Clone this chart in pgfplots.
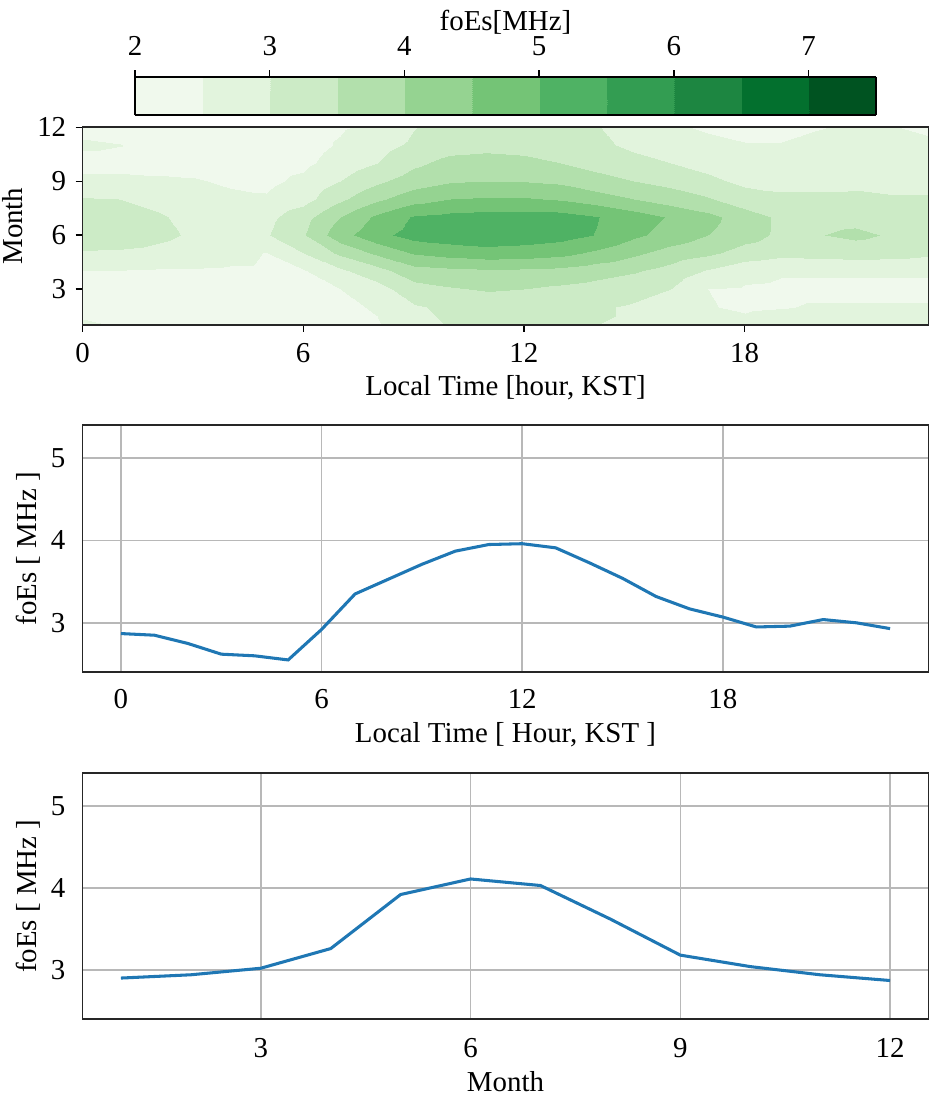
\documentclass[border=0pt]{standalone}
\usepackage{fontspec}
\setmainfont{Liberation Serif}
\usepackage{pgfplots}
\pgfplotsset{compat=1.18}
\definecolor{cOne}{RGB}{31,119,180}
\pgfplotsset{
  /pgf/number format/assume math mode=true,
  every axis/.append style={font=\fontsize{10.4}{12.5}\selectfont},
}
\begin{document}
\fontsize{10.4}{12.5}\selectfont
\begin{tikzpicture}
\useasboundingbox (0,0) rectangle (337.32pt,-394.92pt);
% ---------------- contour panel ----------------
\begin{axis}[
  at={(29.7pt,-117pt)}, anchor=south west, scale only axis,
  width=304.56pt, height=71.17pt,
  axis on top, clip=false,
  xmin=0, xmax=23, ymin=1, ymax=12,
  xtick={0,6,12,18}, ytick={3,6,9,12},
  tick align=outside, tick pos=left, major tick length=2.5pt,
  tick style={line width=0.5pt, black},
  axis line style={line width=0.6pt, black!85},
  xticklabel style={inner sep=0pt, anchor=center, yshift=-7.58pt},
  yticklabel style={inner sep=0pt, anchor=east, xshift=-3.17pt},
  xlabel={Local Time [hour, KST]}, ylabel={Month},
  xlabel style={at={(axis description cs:0.5,-0.3187)}, anchor=center},
  ylabel style={at={(axis description cs:-0.0824,0.5)}, anchor=center},
  colormap={fgreens}{rgb255(0cm)=(240,249,237) rgb255(1cm)=(226,244,221)
    rgb255(2cm)=(204,235,198) rgb255(3cm)=(178,224,172) rgb255(4cm)=(149,211,145)
    rgb255(5cm)=(116,196,118) rgb255(6cm)=(79,178,100) rgb255(7cm)=(51,157,82)
    rgb255(8cm)=(29,134,65) rgb255(9cm)=(3,112,46) rgb255(10cm)=(0,83,33)
    rgb255(11cm)=(0,83,33)},
  colormap access=piecewise constant,
  point meta min=2, point meta max=7.5,
  colorbar horizontal,
  colorbar style={
    at={(parent axis.north)}, anchor=south, yshift=12.9pt,
    scale only axis, width=266.76pt, height=13.68pt,
    xtick={2,3,4,5,6,7},
    xtick pos=right, xticklabel pos=right,
    tick align=outside, major tick length=2.5pt,
    tick style={line width=0.5pt, black},
    axis line style={line width=0.55pt, black},
    xticklabel style={inner sep=0pt, anchor=center, yshift=8.66pt},
    xlabel={foEs[MHz]},
    xlabel style={at={(axis description cs:0.5,2.45)}, anchor=center},
  },
]
\addplot[surf, shader=interp, mesh/cols=24, point meta=explicit] coordinates {
(0,1)[2.55] (1,1)[2.48] (2,1)[2.40] (3,1)[2.35] (4,1)[2.35] (5,1)[2.35] (6,1)[2.35] (7,1)[2.40] (8,1)[2.45] (9,1)[2.90] (10,1)[3.02] (11,1)[3.05] (12,1)[3.05] (13,1)[3.05] (14,1)[3.00] (15,1)[2.95] (16,1)[2.70] (17,1)[2.60] (18,1)[2.60] (19,1)[2.70] (20,1)[2.70] (21,1)[2.70] (22,1)[2.70] (23,1)[2.68]
(0,2)[2.40] (1,2)[2.40] (2,2)[2.38] (3,2)[2.35] (4,2)[2.35] (5,2)[2.35] (6,2)[2.35] (7,2)[2.40] (8,2)[2.55] (9,2)[2.95] (10,2)[3.10] (11,2)[3.15] (12,2)[3.15] (13,2)[3.10] (14,2)[3.05] (15,2)[2.95] (16,2)[2.80] (17,2)[2.52] (18,2)[2.45] (19,2)[2.48] (20,2)[2.53] (21,2)[2.53] (22,2)[2.53] (23,2)[2.53]
(0,3)[2.40] (1,3)[2.40] (2,3)[2.40] (3,3)[2.38] (4,3)[2.38] (5,3)[2.38] (6,3)[2.40] (7,3)[2.50] (8,3)[2.80] (9,3)[3.30] (10,3)[3.45] (11,3)[3.55] (12,3)[3.50] (13,3)[3.40] (14,3)[3.30] (15,3)[3.15] (16,3)[3.00] (17,3)[2.50] (18,3)[2.45] (19,3)[2.42] (20,3)[2.42] (21,3)[2.42] (22,3)[2.42] (23,3)[2.42]
(0,4)[2.48] (1,4)[2.48] (2,4)[2.45] (3,4)[2.45] (4,4)[2.42] (5,4)[2.40] (6,4)[2.45] (7,4)[2.90] (8,4)[3.30] (9,4)[3.80] (10,4)[3.88] (11,4)[3.92] (12,4)[3.90] (13,4)[3.85] (14,4)[3.70] (15,4)[3.55] (16,4)[3.30] (17,4)[2.95] (18,4)[2.65] (19,4)[2.55] (20,4)[2.55] (21,4)[2.55] (22,4)[2.55] (23,4)[2.55]
(0,5)[2.97] (1,5)[2.95] (2,5)[2.90] (3,5)[2.80] (4,5)[2.70] (5,5)[2.48] (6,5)[3.00] (7,5)[3.60] (8,5)[4.10] (9,5)[4.55] (10,5)[4.70] (11,5)[4.80] (12,5)[4.75] (13,5)[4.65] (14,5)[4.40] (15,5)[4.10] (16,5)[3.80] (17,5)[3.60] (18,5)[3.30] (19,5)[3.15] (20,5)[3.20] (21,5)[3.25] (22,5)[3.20] (23,5)[3.10]
(0,6)[3.20] (1,6)[3.20] (2,6)[3.10] (3,6)[2.95] (4,6)[2.90] (5,6)[2.95] (6,6)[3.45] (7,6)[4.30] (8,6)[4.85] (9,6)[5.20] (10,6)[5.30] (11,6)[5.35] (12,6)[5.30] (13,6)[5.20] (14,6)[4.98] (15,6)[4.60] (16,6)[4.30] (17,6)[4.00] (18,6)[3.70] (19,6)[3.40] (20,6)[3.48] (21,6)[3.60] (22,6)[3.45] (23,6)[3.30]
(0,7)[3.20] (1,7)[3.18] (2,7)[3.05] (3,7)[2.90] (4,7)[2.85] (5,7)[2.85] (6,7)[3.30] (7,7)[4.00] (8,7)[4.60] (9,7)[5.05] (10,7)[5.15] (11,7)[5.20] (12,7)[5.20] (13,7)[5.20] (14,7)[5.02] (15,7)[4.75] (16,7)[4.45] (17,7)[4.15] (18,7)[3.75] (19,7)[3.40] (20,7)[3.30] (21,7)[3.35] (22,7)[3.30] (23,7)[3.25]
(0,8)[3.03] (1,8)[3.00] (2,8)[2.90] (3,8)[2.75] (4,8)[2.62] (5,8)[2.55] (6,8)[2.80] (7,8)[3.40] (8,8)[3.90] (9,8)[4.30] (10,8)[4.50] (11,8)[4.55] (12,8)[4.55] (13,8)[4.45] (14,8)[4.25] (15,8)[4.00] (16,8)[3.75] (17,8)[3.55] (18,8)[3.20] (19,8)[3.10] (20,8)[3.10] (21,8)[3.10] (22,8)[3.05] (23,8)[3.05]
(0,9)[2.65] (1,9)[2.65] (2,9)[2.60] (3,9)[2.55] (4,9)[2.42] (5,9)[2.40] (6,9)[2.60] (7,9)[3.00] (8,9)[3.40] (9,9)[3.75] (10,9)[3.95] (11,9)[4.00] (12,9)[3.98] (13,9)[3.90] (14,9)[3.65] (15,9)[3.50] (16,9)[3.35] (17,9)[3.10] (18,9)[2.90] (19,9)[2.85] (20,9)[2.85] (21,9)[2.90] (22,9)[2.85] (23,9)[2.85]
(0,10)[2.30] (1,10)[2.30] (2,10)[2.30] (3,10)[2.30] (4,10)[2.30] (5,10)[2.30] (6,10)[2.40] (7,10)[2.70] (8,10)[3.00] (9,10)[3.40] (10,10)[3.65] (11,10)[3.70] (12,10)[3.65] (13,10)[3.50] (14,10)[3.35] (15,10)[3.15] (16,10)[3.00] (17,10)[2.85] (18,10)[2.70] (19,10)[2.70] (20,10)[2.70] (21,10)[2.75] (22,10)[2.75] (23,10)[2.70]
(0,11)[2.60] (1,11)[2.52] (2,11)[2.30] (3,11)[2.30] (4,11)[2.25] (5,11)[2.25] (6,11)[2.30] (7,11)[2.55] (8,11)[2.80] (9,11)[3.10] (10,11)[3.30] (11,11)[3.35] (12,11)[3.30] (13,11)[3.20] (14,11)[3.10] (15,11)[2.90] (16,11)[2.75] (17,11)[2.60] (18,11)[2.52] (19,11)[2.52] (20,11)[2.60] (21,11)[2.65] (22,11)[2.60] (23,11)[2.60]
(0,12)[2.30] (1,12)[2.30] (2,12)[2.30] (3,12)[2.25] (4,12)[2.25] (5,12)[2.25] (6,12)[2.30] (7,12)[2.45] (8,12)[2.60] (9,12)[2.98] (10,12)[3.10] (11,12)[3.15] (12,12)[3.10] (13,12)[3.05] (14,12)[3.02] (15,12)[2.80] (16,12)[2.55] (17,12)[2.45] (18,12)[2.40] (19,12)[2.40] (20,12)[2.48] (21,12)[2.55] (22,12)[2.52] (23,12)[2.40]
};
\draw[line width=0.6pt, black!85] (rel axis cs:0,0) rectangle (rel axis cs:1,1);
\end{axis}
% ---------------- local time panel ----------------
\begin{axis}[
  at={(29.7pt,-242.03pt)}, anchor=south west, scale only axis,
  width=304.56pt, height=89.03pt,
  xmin=-1.15, xmax=24.15, ymin=2.4, ymax=5.4,
  xtick={0,6,12,18}, ytick={3,4,5},
  grid=major, major grid style={line width=0.55pt, black!28},
  major tick length=0pt,
  axis line style={line width=0.65pt, black!85},
  xticklabel style={inner sep=0pt, anchor=center, yshift=-9.7pt},
  yticklabel style={inner sep=0pt, anchor=east, xshift=-5.94pt},
  xlabel={Local Time [ Hour, KST ]}, ylabel={foEs [ MHz ]},
  xlabel style={at={(axis description cs:0.5,-0.254)}, anchor=center},
  ylabel style={at={(axis description cs:-0.0637,0.5)}, anchor=center},
]
\addplot[cOne, line width=1.1pt] coordinates {
(0,2.87) (1,2.85) (2,2.75) (3,2.62) (4,2.60) (5,2.55) (6,2.92) (7,3.35)
(8,3.53) (9,3.71) (10,3.87) (11,3.95) (12,3.96) (13,3.91) (14,3.73) (15,3.54)
(16,3.32) (17,3.17) (18,3.07) (19,2.95) (20,2.96) (21,3.04) (22,3.00) (23,2.93)
};
\end{axis}
% ---------------- month panel ----------------
\begin{axis}[
  at={(29.7pt,-366.84pt)}, anchor=south west, scale only axis,
  width=304.56pt, height=88.45pt,
  xmin=0.45, xmax=12.55, ymin=2.4, ymax=5.4,
  xtick={3,6,9,12}, ytick={3,4,5},
  grid=major, major grid style={line width=0.55pt, black!28},
  major tick length=0pt,
  axis line style={line width=0.65pt, black!85},
  xticklabel style={inner sep=0pt, anchor=center, yshift=-10.3pt},
  yticklabel style={inner sep=0pt, anchor=east, xshift=-5.94pt},
  xlabel={Month}, ylabel={foEs [ MHz ]},
  xlabel style={at={(axis description cs:0.5,-0.2566)}, anchor=center},
  ylabel style={at={(axis description cs:-0.0637,0.5)}, anchor=center},
]
\addplot[cOne, line width=1.1pt] coordinates {
(1,2.90) (2,2.94) (3,3.02) (4,3.26) (5,3.92) (6,4.11) (7,4.03) (8,3.62)
(9,3.18) (10,3.04) (11,2.94) (12,2.87)
};
\end{axis}
\end{tikzpicture}
\end{document}
